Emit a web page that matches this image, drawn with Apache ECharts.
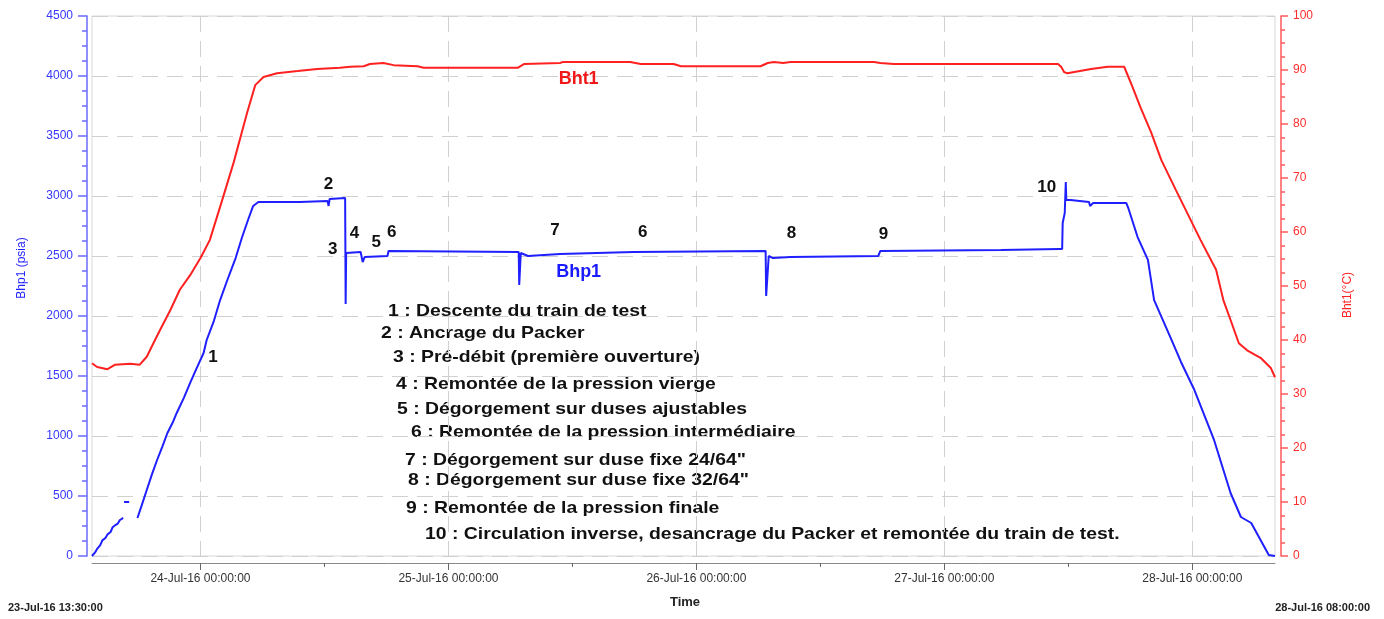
<!DOCTYPE html>
<html>
<head>
<meta charset="utf-8">
<title>Bhp1 / Bht1</title>
<script src="https://cdn.jsdelivr.net/npm/echarts@6/dist/echarts.min.js"></script>
<style>
  html, body { margin: 0; padding: 0; background: #fff; }
  #chart { width: 1384px; height: 619px; }
</style>
</head>
<body>
<div id="chart"></div>
<script>
// Time is counted in hours from 23-Jul-16 13:30:00
const startLabel = '23-Jul-16 13:30:00';
const endLabel = '28-Jul-16 08:00:00';
const spanHours = 114.5;
const dayTicks = [10.5, 34.5, 58.5, 82.5, 106.5];   // midnight of each day
const noonTicks = [22.5, 46.5, 70.5, 94.5];

// Bottom-hole pressure, psia (null = gap in the record)
const bhpHours = [
  0.0, 0.3, 0.5, 0.8, 1.0, 1.3, 1.5, 1.8, 2.0, 2.3, 2.5, 2.7, 2.9, 3.0,
  3.05, 3.1, 3.6, 3.65,
  4.4, 4.8, 5.3, 5.8, 6.3, 6.8, 7.3, 7.8, 8.2, 8.9, 9.5, 10.1, 10.8, 11.1,
  11.8, 12.4, 13.1, 13.9, 14.5, 15.1, 15.6, 16.1, 18.0, 20.1, 22.8, 22.9,
  23.0, 24.5, 24.55, 24.6, 26.0, 26.2, 26.4, 28.6, 28.7, 41.3, 41.35, 41.5,
  42.2, 45.3, 52.4, 52.5, 65.2, 65.25, 65.5, 65.9, 67.6, 76.1, 76.3, 88.0,
  93.6, 93.9, 93.95, 94.1, 94.15, 94.2, 94.25, 94.3, 94.7, 96.5, 96.6, 96.9,
  100.1, 100.3, 101.2, 102.2, 102.8, 104.4, 105.4, 106.7, 108.6, 110.2,
  111.2, 112.2, 113.1, 113.9, 114.5
];
const bhpValues = [
  0, 30, 60, 90, 130, 150, 180, 200, 240, 260, 270, 300, 310, 320,
  null, 450, 450, null,
  317, 420, 550, 680, 800, 910, 1025, 1110, 1192, 1320, 1442, 1560, 1692, 1800,
  1960, 2133, 2300, 2483, 2650, 2800, 2917, 2950, 2950, 2950, 2958, 2917,
  2975, 2983, 2100, 2525, 2533, 2450, 2492, 2500, 2542, 2533, 2258, 2525,
  2500, 2517, 2533, 2542, 2542, 2167, 2500, 2483, 2492, 2500, 2542, 2550,
  2558, 2558, 2775, 2775, 2858, 2858, 3117, 2967, 2967, 2950, 2917, 2942,
  2942, 2900, 2658, 2467, 2133, 1817, 1617, 1383, 967, 525,
  325, 275, 133, 8, 0
];

// Bottom-hole temperature, °C
const bhtHours = [
  0.0, 0.5, 1.5, 2.2, 3.7, 4.6, 5.3, 6.1, 6.6, 7.6, 8.5, 9.5, 10.5, 11.4,
  12.6, 13.7, 15.0, 15.8, 16.6, 17.9, 19.9, 21.8, 24.0, 25.0, 26.3, 26.9,
  28.2, 29.2, 31.5, 32.1, 41.2, 41.8, 45.3, 45.6, 52.1, 53.1, 56.3, 57.0,
  64.7, 65.4, 66.0, 66.9, 67.6, 75.7, 76.3, 77.6, 93.5, 93.8, 94.1, 94.4,
  96.7, 98.3, 99.9, 100.6, 101.5, 102.5, 103.5, 104.9, 107.3, 108.8, 109.5,
  110.2, 111.0, 111.8, 113.1, 114.1, 114.5
];
const bhtValues = [
  35.7, 35.0, 34.6, 35.4, 35.6, 35.4, 36.9, 40.0, 41.9, 45.6, 49.3, 52.0, 55.2, 58.5,
  65.9, 72.8, 82.0, 87.2, 88.7, 89.4, 89.8, 90.2, 90.4, 90.6, 90.7, 91.1,
  91.3, 90.9, 90.7, 90.4, 90.4, 91.1, 91.3, 91.5, 91.5, 91.1, 91.1, 90.7,
  90.7, 91.3, 91.5, 91.3, 91.5, 91.5, 91.3, 91.1, 91.1, 90.6, 89.6, 89.4,
  90.2, 90.6, 90.6, 87.4, 83.0, 78.5, 73.3, 67.8, 58.5, 53.0, 47.4,
  43.7, 39.4, 38.1, 36.7, 34.8, 33.1
];

// Event markers along the pressure curve
const eventTags = ['1', '2', '3', '4', '5', '6', '7', '6', '8', '9', '10'];
const eventHours = [11.7, 22.9, 23.3, 25.4, 27.5, 29.0, 44.8, 53.3, 67.7, 76.6, 92.4];
const eventPsia = [1658, 3100, 2558, 2692, 2617, 2700, 2717, 2700, 2692, 2683, 3075];

// Key to the event numbers
const eventNotes = [
  '1 : Descente du train de test',
  '2 : Ancrage du Packer',
  '3 : Pré-débit (première ouverture)',
  '4 : Remontée de la pression vierge',
  '5 : Dégorgement sur duses ajustables',
  '6 : Remontée de la pression intermédiaire',
  '7 : Dégorgement sur duse fixe 24/64"',
  '8 : Dégorgement sur duse fixe 32/64"',
  '9 : Remontée de la pression finale',
  '10 : Circulation inverse, desancrage du Packer et remontée du train de test.'
];

const BLUE = '#1f1fff';
const RED = '#ff2020';
const MONTHS = ['Jan','Feb','Mar','Apr','May','Jun','Jul','Aug','Sep','Oct','Nov','Dec'];
const startMs = Date.UTC(2016, 6, 23, 13, 30, 0);
const pad = n => String(n).padStart(2, '0');
function hourLabel(h) {
  const d = new Date(startMs + Math.round(h * 3600000));
  return pad(d.getUTCDate()) + '-' + MONTHS[d.getUTCMonth()] + '-' +
    String(d.getUTCFullYear()).slice(2) + ' ' + pad(d.getUTCHours()) + ':' +
    pad(d.getUTCMinutes()) + ':' + pad(d.getUTCSeconds());
}

const bhpData = bhpHours.map((h, i) => [h, bhpValues[i] == null ? '-' : bhpValues[i]]);
const bhtData = bhtHours.map((h, i) => [h, bhtValues[i]]);
const eventData = eventHours.map((h, i) => ({ value: [h, eventPsia[i]], name: eventTags[i] }));

// Positions of the key lines (left edge, vertical centre)
const noteLayout = [
  [388, 311], [381, 333], [393, 357], [396, 384], [397, 409],
  [411, 432], [405, 460], [408, 480], [406, 508], [425, 534]
];

const chart = echarts.init(document.getElementById('chart'), null, { renderer: 'canvas' });

const labelFont = { fontFamily: 'Liberation Sans', fontSize: 12 };
const tagLabel = (color, size) => ({
  show: true, position: 'inside', formatter: p => p.name,
  color: color, fontFamily: 'Liberation Sans', fontWeight: 'bold', fontSize: size,
  textBorderWidth: 0, textBorderColor: 'transparent', textShadowBlur: 0
});

chart.setOption({
  animation: false,
  backgroundColor: '#fff',
  grid: {
    left: 92, right: 109, top: 16, bottom: 63,
    show: true, borderColor: '#d8d8d8', borderWidth: 1
  },
  xAxis: [
    {
      type: 'value', min: 0, max: spanHours, position: 'bottom', offset: 7,
      axisLine: { show: true, onZero: false, lineStyle: { color: '#8a8a8a', width: 1 } },
      axisTick: { show: true, length: 7, customValues: dayTicks, lineStyle: { color: '#666' } },
      axisLabel: {
        customValues: dayTicks, formatter: hourLabel, color: '#333', margin: 10,
        ...labelFont
      },
      splitLine: { show: true, lineStyle: { color: '#d0d0d0', type: [16, 9], width: 1 } }
    },
    {
      type: 'value', min: 0, max: spanHours, position: 'bottom', offset: 7,
      axisLine: { show: false, onZero: false },
      axisTick: { show: true, length: 4, customValues: noonTicks, lineStyle: { color: '#666' } },
      axisLabel: { show: false },
      splitLine: { show: false }
    }
  ],
  yAxis: [
    {
      type: 'value', position: 'left', min: 0, max: 4500, interval: 500, offset: 5,
      axisLine: { show: true, onZero: false, lineStyle: { color: '#6a6aff', width: 1.5 } },
      axisTick: { show: true, length: 9, lineStyle: { color: '#6a6aff', width: 1.5 } },
      minorTick: { show: true, splitNumber: 4, length: 5, lineStyle: { color: '#6a6aff', width: 1.5 } },
      axisLabel: { color: '#3535ff', margin: 14, formatter: v => String(v), ...labelFont },
      splitLine: { show: true, lineStyle: { color: '#d0d0d0', type: [16, 9], width: 1 } }
    },
    {
      type: 'value', position: 'right', min: 0, max: 100, interval: 10, offset: 6,
      axisLine: { show: true, onZero: false, lineStyle: { color: '#ff5a5a', width: 1.5 } },
      axisTick: { show: true, length: 7, lineStyle: { color: '#ff5a5a', width: 1.5 } },
      minorTick: { show: true, splitNumber: 4, length: 4, lineStyle: { color: '#ff5a5a', width: 1.5 } },
      axisLabel: { color: '#ff2d2d', margin: 12, formatter: v => String(v), ...labelFont },
      splitLine: { show: false }
    }
  ],
  series: [
    {
      name: 'Bht1', type: 'line', xAxisIndex: 0, yAxisIndex: 1,
      data: bhtData, showSymbol: false, symbol: 'none',
      lineStyle: { color: RED, width: 2 }
    },
    {
      name: 'Bhp1', type: 'line', xAxisIndex: 0, yAxisIndex: 0,
      data: bhpData, showSymbol: false, symbol: 'none', connectNulls: false,
      lineStyle: { color: BLUE, width: 2 }
    },
    {
      name: 'events', type: 'scatter', xAxisIndex: 0, yAxisIndex: 0,
      data: eventData, symbolSize: 0, silent: true, itemStyle: { opacity: 1 },
      label: tagLabel('#111111', 17)
    },
    {
      name: 'Bhp1 tag', type: 'scatter', xAxisIndex: 0, yAxisIndex: 0,
      data: [{ value: [47.1, 2367], name: 'Bhp1' }], symbolSize: 0, silent: true,
      itemStyle: { opacity: 1 },
      label: tagLabel('#1a1aff', 18)
    },
    {
      name: 'Bht1 tag', type: 'scatter', xAxisIndex: 0, yAxisIndex: 1,
      data: [{ value: [47.1, 88.3], name: 'Bht1' }], symbolSize: 0, silent: true,
      itemStyle: { opacity: 1 },
      label: tagLabel('#f01818', 18)
    }
  ],
  graphic: [
    {
      type: 'text', x: 22, y: 268, rotation: Math.PI / 2,
      style: { text: 'Bhp1 (psia)', fill: BLUE, font: '12px "Liberation Sans"', align: 'center', verticalAlign: 'middle' }
    },
    {
      type: 'text', x: 1348, y: 295, rotation: Math.PI / 2,
      style: { text: 'Bht1(°C)', fill: RED, font: '12px "Liberation Sans"', align: 'center', verticalAlign: 'middle' }
    },
    {
      type: 'text', x: 685, y: 602,
      style: { text: 'Time', fill: '#222', font: 'bold 13px "Liberation Sans"', align: 'center', verticalAlign: 'middle' }
    },
    {
      type: 'text', x: 8, y: 608,
      style: { text: startLabel, fill: '#222', font: 'bold 11px "Liberation Sans"', align: 'left', verticalAlign: 'middle' }
    },
    {
      type: 'text', x: 1370, y: 608,
      style: { text: endLabel, fill: '#222', font: 'bold 11px "Liberation Sans"', align: 'right', verticalAlign: 'middle' }
    },
    ...eventNotes.map((t, i) => ({
      type: 'text', x: noteLayout[i][0], y: noteLayout[i][1], scaleX: 1.14,
      style: { text: t, fill: '#111', font: 'bold 17px "Liberation Sans"', align: 'left', verticalAlign: 'middle' }
    }))
  ]
});
</script>
</body>
</html>
